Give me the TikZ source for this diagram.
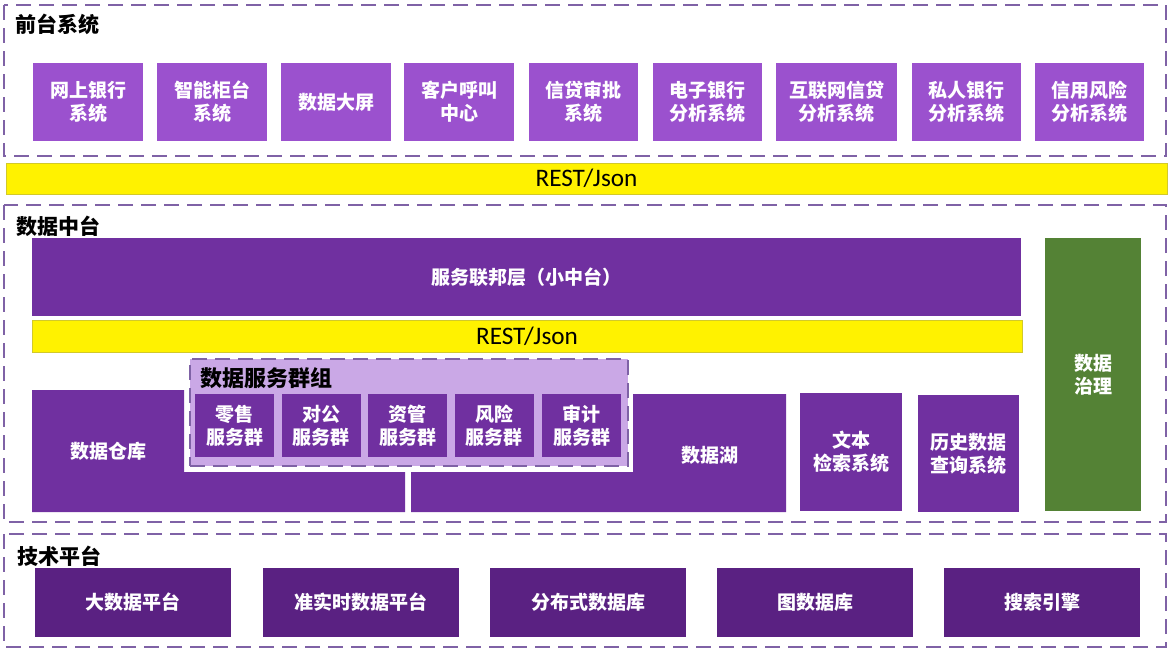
\documentclass[tikz,border=0pt]{standalone}
\usepackage{fontspec}
\setmainfont{Noto Sans CJK SC}
\newfontfamily\restfont{Carlito}

\definecolor{frontpurple}{HTML}{9B51CE}
\definecolor{midpurple}{HTML}{7030A0}
\definecolor{techpurple}{HTML}{5A2182}
\definecolor{grouppurple}{HTML}{CAA8E6}
\definecolor{framepurple}{HTML}{7F62A6}
\definecolor{govgreen}{HTML}{548235}

\tikzset{
  layer frame/.style={draw=framepurple, line width=1.1pt, dash pattern=on 7.5pt off 4pt},
  layer title/.style={anchor=west, inner sep=0pt, font=\fontsize{10.5}{12}\selectfont\bfseries},
  sysbox/.style 2 args={minimum width=#1*0.5pt, minimum height=#2*0.5pt, inner sep=0pt,
    align=center, text=white, font=\fontsize{9.5}{11.5}\selectfont\bfseries},
  rest bar/.style 2 args={minimum width=#1*0.5pt, minimum height=#2*0.5pt, inner sep=0pt,
    fill=yellow, draw=yellow!80!black, line width=0.4pt, font=\restfont\fontsize{12.6}{14}\selectfont},
  boxtext/.style={inner sep=0pt, align=center, text=white, font=\fontsize{9.5}{11.5}\selectfont\bfseries},
}

\begin{document}
\begin{tikzpicture}[x=0.5pt, y=-0.5pt]
    \useasboundingbox (0,0) rectangle (1168,650);

    % front layer
    \draw[layer frame] (4,5) rectangle (1166,156);
    \node[layer title] (fronttitle) at (15,24) {前台系统};
    \foreach \cx/\w/\txt [count=\i] in {88/110/{网上银行\\系统}, 212/110/{智能柜台\\系统},
        336/110/{数据大屏}, 459/110/{客户呼叫\\中心}, 583.5/109/{信贷审批\\系统},
        707.5/109/{电子银行\\分析系统}, 836.5/121/{互联网信贷\\分析系统},
        966.5/109/{私人银行\\分析系统}, 1089.5/109/{信用风险\\分析系统}}
      \node[sysbox={\w}{78}, fill=frontpurple] (fe\i) at (\cx,102) {\txt};

    \node[rest bar={1161}{31}] (resttop) at (586.5,178.5) {REST/Json};

    % data middle layer
    \draw[layer frame] (4,205) rectangle (1166,522);
    \node[layer title] (midtitle) at (16,226) {数据中台};
    \node[sysbox={989}{78}, fill=midpurple] (federation) at (526.5,277) {服务联邦层（小中台）};
    \node[rest bar={990}{32}] (restmid) at (527,336) {REST/Json};
    \node[sysbox={96}{273}, fill=govgreen] (governance) at (1093,374.5) {数据\\治理};

    \fill[midpurple] (32,390) -- (184,390) -- (184,472) -- (405,472) -- (405,512) -- (32,512) -- cycle;
    \node[boxtext] (warehouse) at (108,451) {数据仓库};
    \fill[midpurple] (633,394) -- (786,394) -- (786,512) -- (411,512) -- (411,472) -- (633,472) -- cycle;
    \node[boxtext] (lake) at (710,455) {数据湖};

    \node[sysbox={102}{118}, fill=midpurple] (textsearch) at (851,452) {文本\\检索系统};
    \node[sysbox={101}{117}, fill=midpurple] (history) at (968.5,453.5) {历史数据\\查询系统};

    % service group
    \node[layer frame, fill=grouppurple, minimum width=219pt, minimum height=53.5pt, inner sep=0pt] (group) at (409,412.5) {};
    \node[layer title, font=\fontsize{11}{12}\selectfont\bfseries] (grouptitle) at (200,378) {数据服务群组};
    \foreach \cx/\txt [count=\i] in {234.5/零售, 321/对公, 407.5/资管, 494/风险, 581.5/审计}
      \node[sysbox={79}{63}, fill=midpurple] (svc\i) at (\cx,425.5) {\txt\\服务群};

    % tech layer
    \draw[layer frame] (4,534) rectangle (1166,647);
    \node[layer title] (techtitle) at (17,556) {技术平台};
    \foreach \cx/\txt [count=\i] in {133/大数据平台, 360.5/准实时数据平台, 588/分布式数据库,
        815/图数据库, 1042/搜索引擎}
      \node[sysbox={196}{69}, fill=techpurple] (tech\i) at (\cx,602.5) {\txt};
\end{tikzpicture}
\end{document}
